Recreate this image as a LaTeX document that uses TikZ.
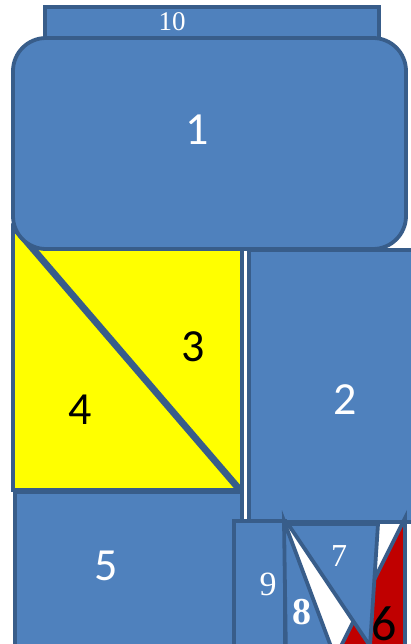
\documentclass[tikz,border=0pt]{standalone}
\usepackage{fontspec}
\newfontfamily\calfont{Carlito}
\newfontfamily\timesfont{Liberation Serif}
\usepackage{tikz}
\definecolor{tileblue}{HTML}{4F81BD}
\definecolor{tileedge}{HTML}{385D8A}
\definecolor{tilered}{HTML}{C00000}
\definecolor{tileyellow}{HTML}{FFFF00}

\begin{document}
\begin{tikzpicture}[
    x=1pt, y=-1pt,
    tile/.style={draw=tileedge, fill=tileblue, line width=3.8pt, miter limit=20},
    yellowtile/.style={tile, fill=tileyellow},
    redtile/.style={tile, fill=tilered},
    sanslabel/.style={font=\calfont\fontsize{46}{46}\selectfont, text=white, inner sep=0pt},
    seriflabel/.style={font=\timesfont\fontsize{32}{32}\selectfont, text=white, inner sep=0pt}
]
\useasboundingbox (0,0) rectangle (411,644);
\clip (0,0) rectangle (411,644);

% Streifen oben
\draw[tile] (45,7) rectangle (379,42);
\node[seriflabel, font=\timesfont\fontsize{27}{27}\selectfont] (l10) at (172,22) {10};

% gelbes Quadrat aus zwei Dreiecken
\draw[yellowtile] (13,228) -- (13,490) -- (238,490) -- cycle;
\draw[yellowtile] (17,228) -- (242,228) -- (242,490) -- cycle;
\node[sanslabel, text=black] (l3) at (193,347) {3};
\node[sanslabel, text=black] (l4) at (80,410) {4};

% grosses Feld
\draw[tile, rounded corners=33pt] (13,38) rectangle (406,249);
\node[sanslabel] (l1) at (197,130) {1};

\draw[tile] (249,250) rectangle (420,522);
\node[sanslabel] (l2) at (345,400) {2};

\draw[tile] (15,492) rectangle (242,660);
\node[sanslabel] (l5) at (106,566) {5};

\draw[tile] (234,521) rectangle (285,660);
\node[seriflabel, font=\timesfont\fontsize{34}{34}\selectfont] (l9) at (268,584) {9};

% Dreiecke unten rechts
\draw[redtile] (405,518) -- (405,660) -- (334,660) -- cycle;
\draw[tile] (284,521) -- (286,660) -- (336,660) -- cycle;
\draw[tile] (288,524) -- (378,524) -- (370,646) -- cycle;
\node[sanslabel, text=black, font=\calfont\fontsize{50}{50}\selectfont, anchor=base] (l6) at (384.5,640) {6};
\node[seriflabel] (l7) at (339,556) {7};
\node[seriflabel, font=\timesfont\bfseries\fontsize{38}{38}\selectfont] (l8) at (302,612) {8};

\end{tikzpicture}
\end{document}
